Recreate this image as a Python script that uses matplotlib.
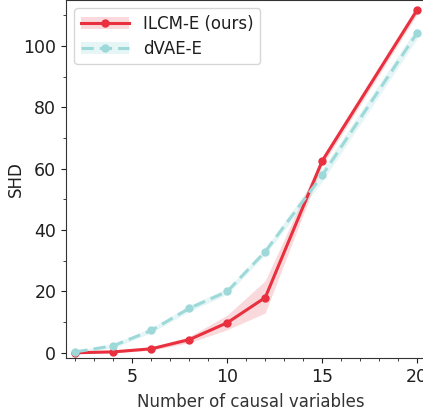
import numpy as np
import matplotlib
matplotlib.use("Agg")
import matplotlib.pyplot as plt
from matplotlib.patches import Patch
from matplotlib.lines import Line2D
from matplotlib.ticker import MultipleLocator

# data
n_vars = [2, 4, 6, 8, 10, 12, 15, 20]
ilcm_mean = [0.0, 0.3, 1.3, 4.3, 9.8, 18.0, 62.5, 111.7]
ilcm_low = [-0.3, 0.0, 0.8, 3.3, 7.5, 13.0, 61.0, 110.3]
ilcm_high = [0.3, 0.7, 1.9, 5.3, 12.3, 23.5, 64.0, 113.2]
dvae_mean = [0.3, 2.3, 7.3, 14.5, 20.0, 33.0, 57.8, 104.2]
dvae_low = [0.0, 1.6, 6.5, 13.5, 19.0, 32.0, 55.8, 102.3]
dvae_high = [0.6, 3.0, 8.1, 15.5, 21.0, 34.0, 59.8, 106.1]

RED = "#E8303F"
CYAN = "#9ED9DA"
INK = "#1f1f1f"

plt.rcParams["font.family"] = "DejaVu Sans"
plt.rcParams["text.color"] = INK
plt.rcParams["axes.labelcolor"] = INK
plt.rcParams["xtick.color"] = INK
plt.rcParams["ytick.color"] = INK
plt.rcParams["axes.edgecolor"] = "#333333"

fig = plt.figure(figsize=(4.23, 4.12), dpi=100)
ax = fig.add_axes([66 / 423, (412 - 358) / 412, 370 / 423, 358 / 412])

ax.fill_between(n_vars, ilcm_low, ilcm_high, color=RED, alpha=0.18, lw=0)
ax.plot(n_vars, ilcm_mean, color=RED, lw=2.2, marker="o", ms=5)
ax.fill_between(n_vars, dvae_low, dvae_high, color=CYAN, alpha=0.25, lw=0)
ax.plot(n_vars, dvae_mean, color=CYAN, lw=2.2, ls="--", marker="o", ms=5,
        dashes=(4, 2))

ax.set_xlim(1.5, 21.0)
ax.set_ylim(-1.7, 115)
ax.xaxis.set_major_locator(MultipleLocator(5))
ax.xaxis.set_minor_locator(MultipleLocator(1))
ax.yaxis.set_major_locator(MultipleLocator(20))
ax.yaxis.set_minor_locator(MultipleLocator(10))
ax.tick_params(labelsize=12.5)
ax.set_xlabel("Number of causal variables", fontsize=12, color="#333333", labelpad=5)
ax.set_ylabel("SHD", fontsize=12, labelpad=-1)

handles = [
    (Patch(color=RED, alpha=0.18, lw=0), Line2D([], [], color=RED, lw=2.2, marker="o", ms=5)),
    (Patch(color=CYAN, alpha=0.25, lw=0),
     Line2D([], [], color=CYAN, lw=2.2, ls="--", marker="o", ms=5, dashes=(4, 2))),
]
ax.legend(handles, ["ILCM-E (ours)", "dVAE-E"], loc="upper left", fontsize=12,
          handlelength=2.9, labelspacing=0.4)

fig.savefig("out.png", dpi=100)
